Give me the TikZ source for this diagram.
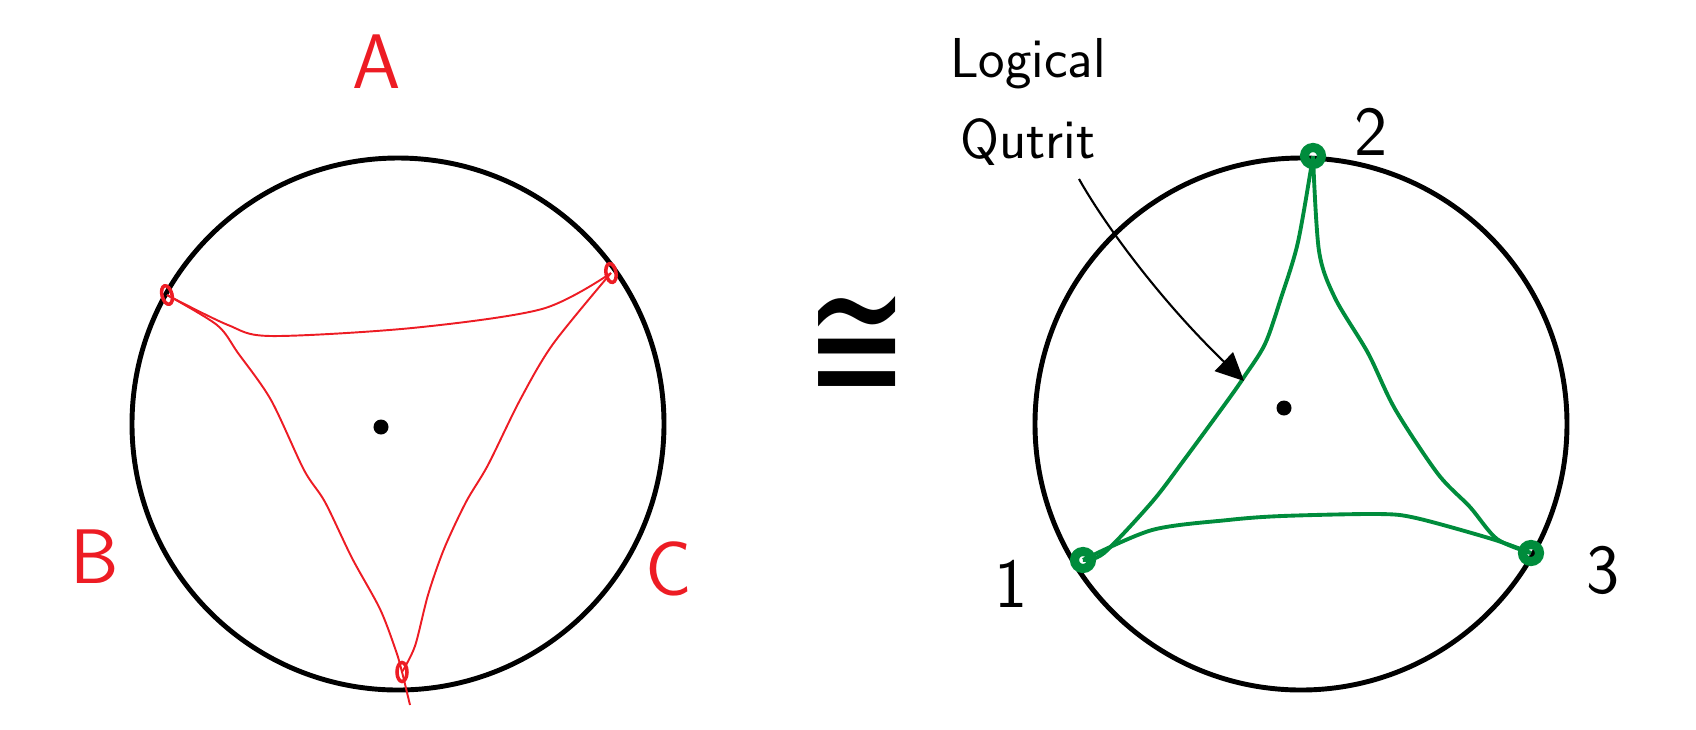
\documentclass[tikz,border=0pt]{standalone}
\usepackage{fontspec}
\newfontfamily\symfont{DejaVu Sans}
\usetikzlibrary{arrows.meta,shapes.geometric}
\definecolor{inkred}{RGB}{237,28,36}
\definecolor{inkgreen}{RGB}{0,140,60}

\begin{document}
\begin{tikzpicture}[x=0.01cm, y=-0.01cm,
  rim/.style={black, line width=1.4pt},
  redline/.style={inkred, line width=0.55pt},
  greenline/.style={inkgreen, line width=1.1pt},
  rmark/.style={ellipse, draw=inkred, line width=1pt, minimum width=0.1cm, minimum height=0.19cm, inner sep=0pt},
  gmark/.style={circle, draw=inkgreen, line width=2.6pt, minimum size=0.17cm, inner sep=0pt},
  cdot/.style={circle, fill=black, minimum size=0.15cm, inner sep=0pt},
  pointer/.style={black, line width=0.6pt, -{Triangle[length=0.28cm, width=0.26cm]}},
  rlbl/.style={inkred, font=\sffamily\fontsize{22}{26}\selectfont},
  klbl/.style={black, font=\sffamily\fontsize{20}{24}\selectfont}]
\useasboundingbox (0,0) rectangle (1696,729);
% ---- left disc: three red vertices on the rim ----
\draw[rim] (398,424) circle[radius=266];
\node[cdot] (ldot) at (381,427) {};
\node[rmark, rotate=15] (vl) at (167,295) {};
\node[rmark, rotate=10] (vr) at (611,273) {};
\node[rmark] (vb) at (402,672) {};
\draw[redline] plot[smooth] coordinates {(vl) (228,325) (271,336) (412,328) (542,309) (vr)};
\draw[redline] plot[smooth] coordinates {(vl) (217,325) (238,353) (271,400) (304,470) (325,502) (352,558) (380,609) (396,651) (vb) (410,705)};
\draw[redline] plot[smooth] coordinates {(vr) (553,344) (520,400) (488,465) (466,502) (444,549) (428,595) (415,646) (vb)};
\node[rlbl] (la) at (377,62) {A};
\node[rlbl] (lb) at (95,557) {B};
\node[rlbl] (lc) at (669,569) {C};
% ---- congruence sign ----
\node[font=\symfont\fontsize{35}{40}\selectfont] (iso) at (857,349) {\scalebox{1}[1.45]{≅}};
% ---- right disc: green vertices 1, 2, 3 ----
\draw[rim] (1301,424) circle[radius=266];
\node[cdot] (rdot) at (1284,408) {};
\node[gmark] (g2) at (1313,156) {};
\node[gmark] (g1) at (1083,560) {};
\node[gmark] (g3) at (1531,553) {};
\draw[greenline] plot[smooth] coordinates {(g2) (1298,242) (1281,298) (1265,344) (1244,377) (1228,400) (1184,460) (1152,502) (1104,553) (g1)};
\draw[greenline] plot[smooth] coordinates {(g2) (1319,251) (1335,298) (1368,353) (1395,409) (1438,474) (1470,507) (1497,539) (g3)};
\draw[greenline] plot[smooth] coordinates {(g1) (1152,530) (1228,520) (1282,516) (1378,514) (1416,518) (1492,539) (g3)};
\node[klbl] (n1) at (1011,584) {1};
\node[klbl] (n2) at (1371,132) {2};
\node[klbl] (n3) at (1603,570) {3};
% ---- label pointing at the edge ----
\node[klbl, font=\sffamily\fontsize{16}{23}\selectfont, align=center] (lq) at (1028,102) {Logical\\Qutrit};
\coordinate (qtail) at (1079,179);
\coordinate (qtip) at (1244,381);
\draw[pointer] (qtail) .. controls (1105,225) and (1160,300) .. (qtip);
\end{tikzpicture}
\end{document}
